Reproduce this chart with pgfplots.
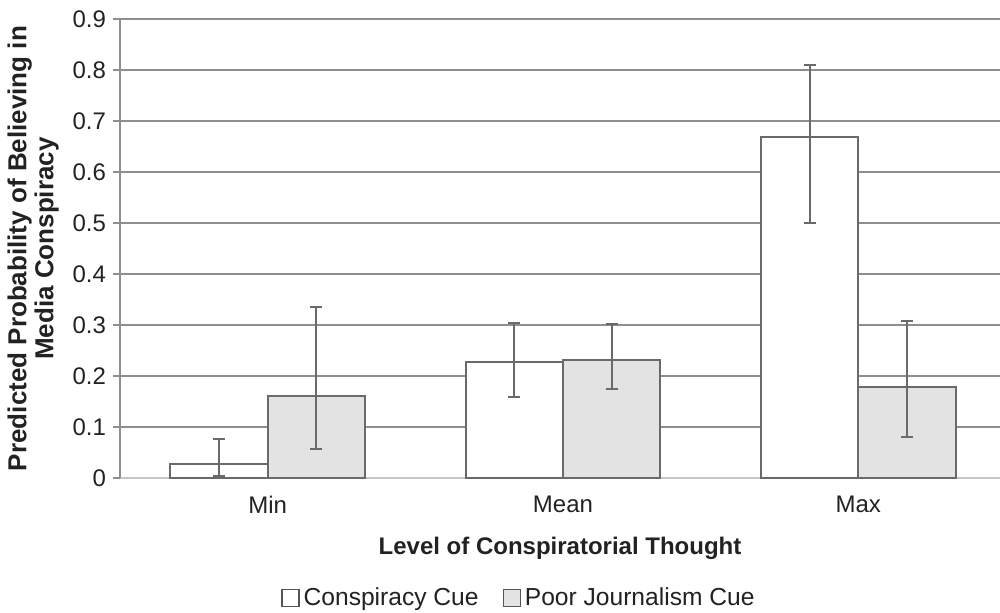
\documentclass[border=0pt]{standalone}
\usepackage{fontspec}
\setmainfont{Liberation Sans}
\usepackage{pgfplots}
\usepackage{pgfplotstable}
\pgfplotsset{compat=1.18}
\usetikzlibrary{calc}
\definecolor{gridc}{HTML}{8E8E8E}
\definecolor{edgec}{HTML}{6A6A6A}
\definecolor{barg}{HTML}{E3E3E3}
\definecolor{txt}{HTML}{222222}

\pgfplotstableread{
x y ep em
0 0.027 0.049 0.023
1 0.228 0.076 0.069
2 0.669 0.141 0.169
}\consp
\pgfplotstableread{
x y ep em
0 0.160 0.175 0.103
1 0.231 0.071 0.057
2 0.178 0.130 0.098
}\poor

\begin{document}
\begin{tikzpicture}
\begin{axis}[
  name=ax,
  scale only axis,
  width=440pt, height=229.5pt,
  ybar=0pt,
  xmin=-0.5, xmax=2.48,
  ymin=0, ymax=0.9,
  ytick={0,0.1,...,0.9},
  xtick={0,1,2},
  xticklabels={Min,Mean,Max},
  x tick style={draw=none},
  y tick style={draw=gridc, line width=1pt},
  tick align=outside,
  major tick length=3.5pt,
  axis x line*=bottom,
  axis y line*=left,
  x axis line style={draw=gridc!50, line width=0.8pt},
  y axis line style={draw=gridc, line width=1pt},
  ymajorgrids,
  grid style={draw=gridc, line width=1pt},
  tick label style={font=\fontsize{12}{13}\selectfont, text=txt},
  /pgf/number format/assume math mode=true,
  yticklabel style={/pgf/number format/fixed, /pgf/number format/precision=1},
  xticklabel style={yshift=-2pt},
  xlabel={\textbf{Level of Conspiratorial Thought}},
  xlabel style={font=\fontsize{12}{13}\selectfont, text=txt, yshift=-5pt},
  ylabel={\textbf{Predicted Probability of Believing in}\\\textbf{Media Conspiracy}},
  ylabel style={font=\fontsize{13}{13.5}\selectfont, text=txt, align=center, yshift=0pt},
  bar width=0.33,
  legend columns=2,
  legend style={draw=none, at={($(0,0)+(200pt,-60pt)$)}, anchor=center,
    font=\fontsize{12.3}{13}\selectfont, text=txt,
    /tikz/every even column/.append style={column sep=10pt}},
  legend image code/.code={\draw[#1, draw=edgec!80!black, line width=0.6pt] (0pt,-4.3pt) rectangle (8.5pt,4.3pt);},
  clip=false,
]
\addplot[bar shift=-0.165, fill=white, draw=edgec, line width=1pt,
  error bars/.cd, y dir=both, y explicit,
  error bar style={draw=edgec, line width=1pt},
  error mark options={draw=edgec, line width=1pt, mark size=3pt, rotate=90}]
  table[x=x, y=y, y error plus=ep, y error minus=em] {\consp};
\addlegendentry{Conspiracy Cue}
\addplot[bar shift=0.165, fill=barg, draw=edgec, line width=1pt,
  error bars/.cd, y dir=both, y explicit,
  error bar style={draw=edgec, line width=1pt},
  error mark options={draw=edgec, line width=1pt, mark size=3pt, rotate=90}]
  table[x=x, y=y, y error plus=ep, y error minus=em] {\poor};
\addlegendentry{Poor Journalism Cue}
\end{axis}
\pgfresetboundingbox
\path[use as bounding box] ($(ax.south west)+(-60pt,-67pt)$) rectangle ($(ax.south west)+(440pt,239pt)$);
\end{tikzpicture}
\end{document}
